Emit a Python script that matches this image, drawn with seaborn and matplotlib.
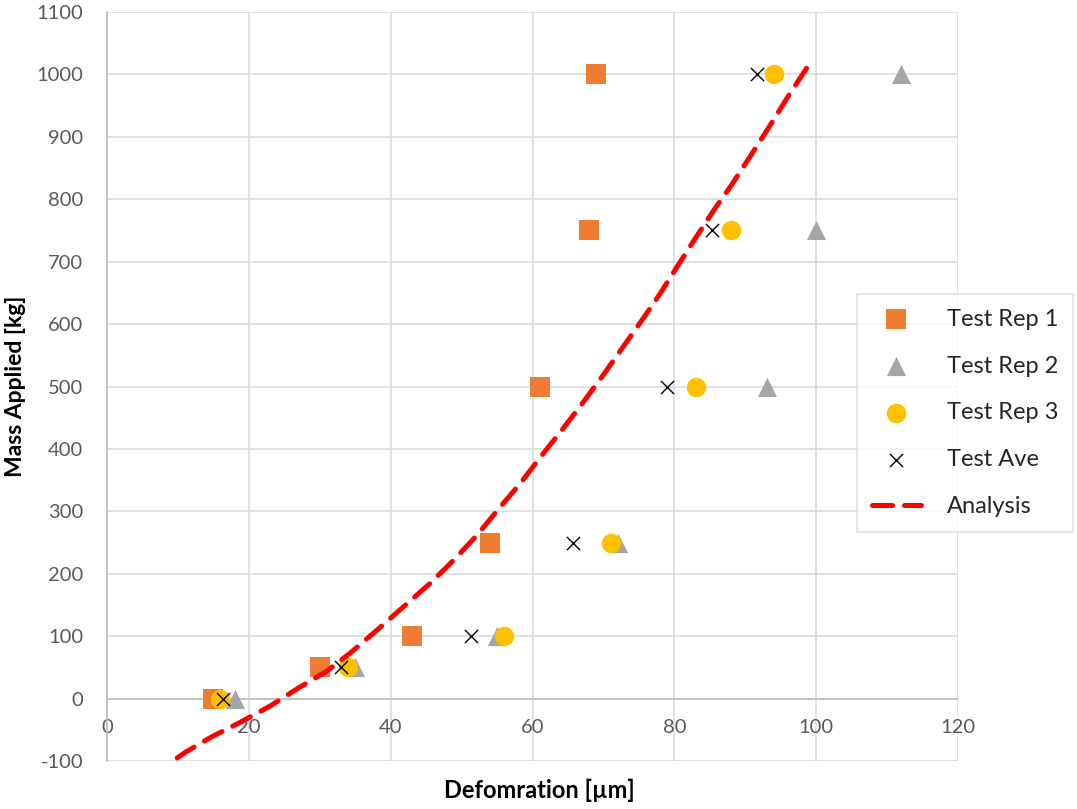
import numpy as np
import pandas as pd
import matplotlib
matplotlib.use('Agg')
import matplotlib.pyplot as plt
import seaborn as sns

# measured data
mass = [0, 50, 100, 250, 500, 750, 1000]
rep1 = [15, 30, 43, 54, 61, 68, 69]
rep2 = [18, 35, 55, 72, 93, 100, 112]
rep3 = [16, 34, 56, 71, 83, 88, 94]
ave = [16.3, 33, 51.3, 65.7, 79, 85.3, 91.7]

# analysis curve
analysis_def = [9.9, 11.2, 14.8, 18.8, 23.0, 27.0, 31.0, 34.3, 38.1, 41.6, 45.6, 48.9, 52.2,
                55.3, 58.3, 61.2, 64.2, 67.1, 69.7, 72.5, 75.3, 77.9, 80.4, 83.0, 85.6,
                88.2, 91.0, 93.6, 96.0, 98.6, 99.2]
analysis_mass = [-95, -85, -61, -38, -12, 17, 44, 73, 110, 145, 185, 222, 262,
                 305, 345, 388, 431, 474, 514, 559, 604, 647, 692, 738, 783,
                 825, 874, 920, 964, 1009, 1020]

sns.set_theme(style='white')
plt.rcParams['font.family'] = ['Lato', 'DejaVu Sans']
plt.rcParams['axes.unicode_minus'] = False

fig = plt.figure(figsize=(10.77, 8.09), dpi=100)
ax = fig.add_axes([107 / 1077, 1 - 761 / 809, (958 - 107) / 1077, (761 - 12) / 809])

sns.scatterplot(x=rep1, y=mass, marker='s', s=207, color='#ED7D31', linewidth=0,
                label='Test Rep 1', ax=ax, zorder=3)
sns.scatterplot(x=rep2, y=mass, marker='^', s=190, color='#A5A5A5', linewidth=0,
                label='Test Rep 2', ax=ax, zorder=3)
sns.scatterplot(x=rep3, y=mass, marker='o', s=196, color='#FFC000', linewidth=0,
                label='Test Rep 3', ax=ax, zorder=3)
sns.scatterplot(x=ave, y=mass, marker='x', s=90, color='black', linewidth=1.0,
                label='Test Ave', ax=ax, zorder=3)
sns.lineplot(x=analysis_def, y=analysis_mass, sort=False, estimator=None, color='#FF0000',
             linewidth=3.6, linestyle=(0, (4.0, 2.4)), dash_capstyle='round',
             label='Analysis', ax=ax, zorder=4)

ax.set_xlim(0, 120)
ax.set_ylim(-100, 1100)
ax.set_xticks(range(0, 121, 20))
ax.set_yticks(range(-100, 1101, 100))
ax.grid(True, color='#D9D9D9', linewidth=1.1)
ax.set_axisbelow(True)

for side in ['top', 'right']:
    ax.spines[side].set_visible(False)
ax.spines['left'].set_color('#BFBFBF')
ax.spines['bottom'].set_color('#BFBFBF')
ax.spines['bottom'].set_position(('data', 0))
ax.tick_params(axis='both', length=0, labelsize=14.5, labelcolor='#595959')
ax.tick_params(axis='x', pad=15)
ax.tick_params(axis='y', pad=17)

ax.set_xlabel('Defomration [µm]', fontsize=17, fontweight='bold', color='black')
ax.set_ylabel('Mass Applied [kg]', fontsize=16.5, fontweight='bold', color='black')
ax.xaxis.set_label_coords(0.508, -0.024)
ax.yaxis.set_label_coords(-0.095, 0.5)

leg = ax.legend(loc='center left', bbox_to_anchor=(857 / 1077, 1 - 413 / 809),
                bbox_transform=fig.transFigure, frameon=True, fancybox=False,
                fontsize=17, labelspacing=1.1, handlelength=2.1, handletextpad=1.1,
                borderpad=0.62, borderaxespad=0)
leg.get_frame().set_edgecolor('#D9D9D9')
leg.get_frame().set_linewidth(1.2)

fig.savefig('out.png', dpi=100)
